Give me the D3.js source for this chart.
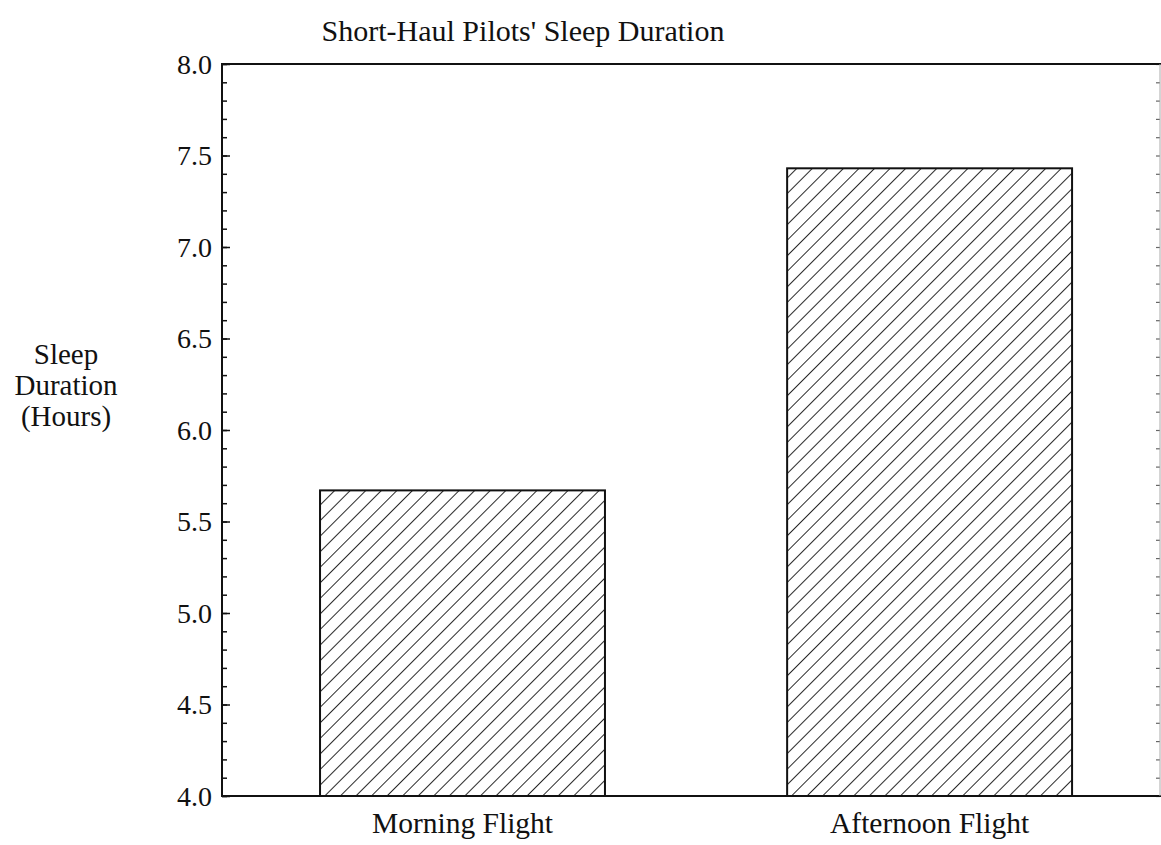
<!DOCTYPE html>
<html><head><meta charset="utf-8">
<script src="https://cdn.jsdelivr.net/npm/d3@7"></script>
<style>
body{margin:0;background:#fff;}
text{font-family:"Liberation Serif","Times New Roman",serif;fill:#111;}
</style></head>
<body><svg id="c" width="1161" height="845"></svg>
<script>
const title = "Short-Haul Pilots' Sleep Duration";
const categories = ["Morning Flight", "Afternoon Flight"];
const values = [5.67, 7.43];
const yTicks = [4.0, 4.5, 5.0, 5.5, 6.0, 6.5, 7.0, 7.5, 8.0];
const yLabelLines = ["Sleep", "Duration", "(Hours)"];

const svg = d3.select("#c");
const L = 222, R = 1160, T = 64, B = 796;
const y = d3.scaleLinear().domain([4, 8]).range([B, T]);
const x = d3.scaleBand().domain(categories).range([L, 1159])
  .paddingInner(0.39).paddingOuter(0.198).align(0.53);

const defs = svg.append("defs");
const pat = defs.append("pattern").attr("id","hatch").attr("patternUnits","userSpaceOnUse")
  .attr("width",11).attr("height",11).attr("patternTransform","rotate(45)");
pat.append("rect").attr("width",11).attr("height",11).attr("fill","#fff");
pat.append("line").attr("x1",0).attr("y1",0).attr("x2",0).attr("y2",11).attr("stroke","#111").attr("stroke-width",1.8);

// bars
svg.selectAll("rect.bar").data(values).enter().append("rect").attr("class","bar")
  .attr("x",(d,i)=>x(categories[i])).attr("width",x.bandwidth())
  .attr("y",d=>y(d)).attr("height",d=>B-y(d))
  .attr("fill","url(#hatch)").attr("stroke","#111").attr("stroke-width",2);

const minor = d3.range(40, 81).map(v=>v/10);
// left axis
svg.append("g").attr("transform",`translate(${L},0)`)
  .call(d3.axisRight(y).tickValues(minor).tickSize(5).tickFormat(""))
  .call(g=>g.select(".domain").remove())
  .selectAll("line").attr("stroke","#111").attr("stroke-width",1.5);
svg.append("g").attr("transform",`translate(${L},0)`)
  .call(d3.axisRight(y).tickValues(yTicks).tickSize(8).tickFormat(""))
  .call(g=>g.select(".domain").remove())
  .selectAll("line").attr("stroke","#111").attr("stroke-width",1.5);
svg.append("g").selectAll("text").data(yTicks).enter().append("text")
  .attr("x",L-10).attr("y",d=>y(d)).attr("dy","0.35em").attr("text-anchor","end")
  .attr("font-size",28).text(d=>d.toFixed(1));
// right axis
svg.append("g").attr("transform",`translate(${R},0)`)
  .call(d3.axisLeft(y).tickValues(minor).tickSize(4).tickFormat(""))
  .call(g=>g.select(".domain").remove())
  .selectAll("line").attr("stroke","#666").attr("stroke-width",1.2);

// frame lines
svg.append("line").attr("x1",L).attr("x2",L).attr("y1",T-1).attr("y2",B+1).attr("stroke","#111").attr("stroke-width",2);
svg.append("line").attr("x1",L).attr("x2",1161).attr("y1",T).attr("y2",T).attr("stroke","#111").attr("stroke-width",2);
svg.append("line").attr("x1",L).attr("x2",1161).attr("y1",B).attr("y2",B).attr("stroke","#111").attr("stroke-width",2);
svg.append("line").attr("x1",R).attr("x2",R).attr("y1",T).attr("y2",B).attr("stroke","#aaa").attr("stroke-width",1);

// category labels
svg.append("g").selectAll("text").data(categories).enter().append("text")
  .attr("x",d=>x(d)+x.bandwidth()/2).attr("y",833).attr("text-anchor","middle")
  .attr("font-size",29.5).text(d=>d);

// title
svg.append("text").attr("x",523).attr("y",41).attr("text-anchor","middle").attr("font-size",30).text(title);

// y label
svg.append("g").selectAll("text").data(yLabelLines).enter().append("text")
  .attr("x",66).attr("y",(d,i)=>364+i*31).attr("text-anchor","middle").attr("font-size",29).text(d=>d);
</script></body></html>
